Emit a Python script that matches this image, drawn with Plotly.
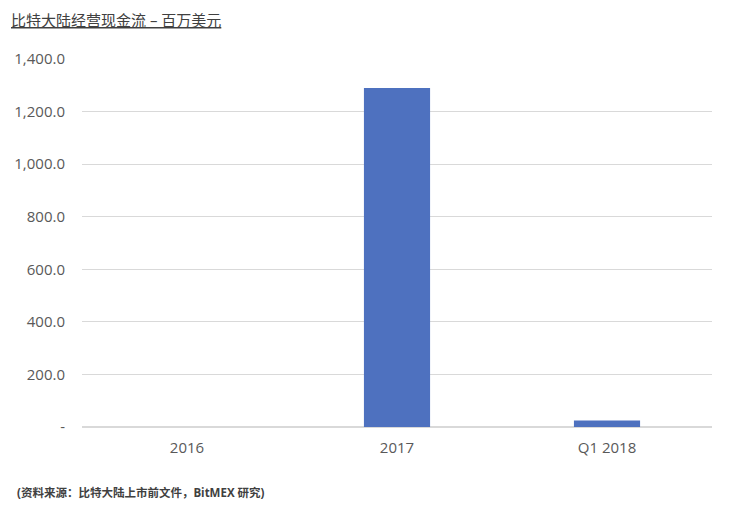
import plotly.graph_objects as go

categories = ["2016", "2017", "Q1 2018"]
values = [0.0, 1290.0, 25.0]
y_tickvals = [0, 200, 400, 600, 800, 1000, 1200, 1400]
y_ticktext = ["-", "200.0", "400.0", "600.0", "800.0", "1,000.0", "1,200.0", "1,400.0"]

title_text = "<u>比特大陆经营现金流 – 百万美元</u>"
source_text = "<b>(资料来源：比特大陆上市前文件，BitMEX 研究)</b>"

font_family = "Open Sans, Noto Sans CJK SC, sans-serif"

fig = go.Figure()
fig.add_trace(go.Bar(
    x=categories,
    y=values,
    marker=dict(color="#4e71bf", line=dict(width=0)),
    width=0.315,
))

fig.update_layout(
    width=754,
    height=515,
    paper_bgcolor="white",
    plot_bgcolor="white",
    margin=dict(l=74, r=50, t=51, b=96),
    showlegend=False,
    font=dict(family=font_family, color="#595959", size=14),
    xaxis=dict(
        showgrid=False,
        showline=False,
        ticks="",
        tickfont=dict(size=15, color="#595959"),
        ticklabelstandoff=10,
        automargin=False,
    ),
    yaxis=dict(
        range=[0, 1400],
        tickvals=y_tickvals,
        ticktext=y_ticktext,
        showgrid=True,
        gridcolor="#d9d9d9",
        gridwidth=1,
        zeroline=True,
        zerolinecolor="#d9d9d9",
        zerolinewidth=2,
        showline=False,
        ticks="",
        tickfont=dict(size=15, color="#595959"),
        ticklabelstandoff=16,
        automargin=False,
    ),
    annotations=[
        dict(
            text=title_text,
            xref="paper", yref="paper",
            x=0, y=1,
            xanchor="left", yanchor="middle",
            xshift=-73, yshift=39,
            showarrow=False,
            font=dict(size=15, color="#404040", family=font_family),
        ),
        dict(
            text=source_text,
            xref="paper", yref="paper",
            x=0, y=0,
            xanchor="left", yanchor="middle",
            xshift=-67, yshift=-65,
            showarrow=False,
            font=dict(size=11.5, color="#404040", family=font_family),
        ),
    ],
)

fig.write_html("out.html")
